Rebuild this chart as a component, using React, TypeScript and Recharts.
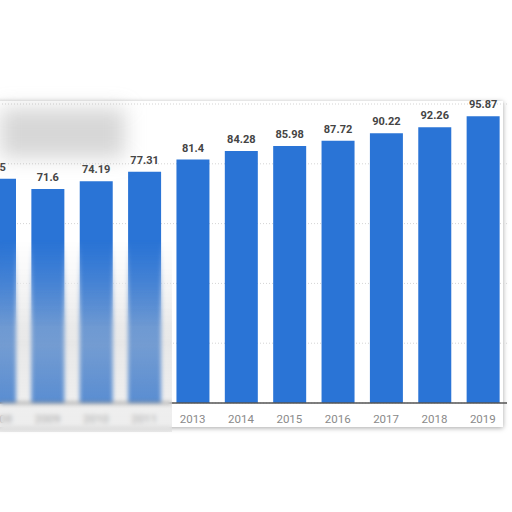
import React from 'react';
import { BarChart, Bar, XAxis, YAxis, CartesianGrid, LabelList } from 'recharts';

const years = ['2008', '2009', '2010', '2011', '2013', '2014', '2015', '2016', '2017', '2018', '2019'];
const values = [75, 71.6, 74.19, 77.31, 81.4, 84.28, 85.98, 87.72, 90.22, 92.26, 95.87];
const yTicks = [0, 20, 40, 60, 80, 100];

const data = years.map((y, i) => ({ year: y, value: values[i] }));

export default function App() {
  return (
    <div style={{ position: 'absolute', left: 0, top: 0, width: 512, height: 512, overflow: 'hidden', background: '#ffffff' }}>
      {/* card */}
      <div style={{ position: 'absolute', left: -20, top: 101, width: 523, height: 326, background: '#fff', boxShadow: '0 1px 5px rgba(0,0,0,0.35)' }} />
      <div style={{ position: 'absolute', left: -25, top: 0 }}>
        <BarChart width={540} height={512} data={data} margin={{ top: 104, right: 8, bottom: 79, left: 0 }}>
          <CartesianGrid vertical={false} stroke="#d4d4d4" strokeDasharray="1 2" />
          <XAxis
            dataKey="year"
            height={30}
            tickLine={false}
            axisLine={{ stroke: '#555', strokeWidth: 1.5 }}
            tick={{ fill: '#8a8a8a', fontSize: 11.5, fontFamily: 'Roboto' }}
            tickMargin={6}
            interval={0}
          />
          <YAxis hide domain={[0, 100]} ticks={yTicks} />
          <Bar dataKey="value" fill="#2a74d6" barSize={33} isAnimationActive={false}>
            <LabelList dataKey="value" position="top" offset={8} style={{ fill: '#444', fontSize: 11, fontWeight: 700, fontFamily: 'Roboto' }} />
          </Bar>
        </BarChart>
      </div>
      {/* blurred overlays on left */}
      <div style={{ position: 'absolute', left: 0, top: 108, width: 125, height: 50, background: 'rgba(140,140,140,0.35)', filter: 'blur(10px)' }} />
      <div
        style={{
          position: 'absolute',
          left: 0,
          top: 240,
          width: 172,
          height: 192,
          backdropFilter: 'blur(2px)',
          WebkitMaskImage: 'linear-gradient(to bottom, transparent 0%, black 45%)',
          maskImage: 'linear-gradient(to bottom, transparent 0%, black 45%)',
          background: 'linear-gradient(to bottom, rgba(205,205,205,0.3), rgba(205,205,205,0.45) 55%, rgba(200,200,200,0.3) 85%, rgba(220,220,220,0.5))',
        }}
      />
    </div>
  );
}
